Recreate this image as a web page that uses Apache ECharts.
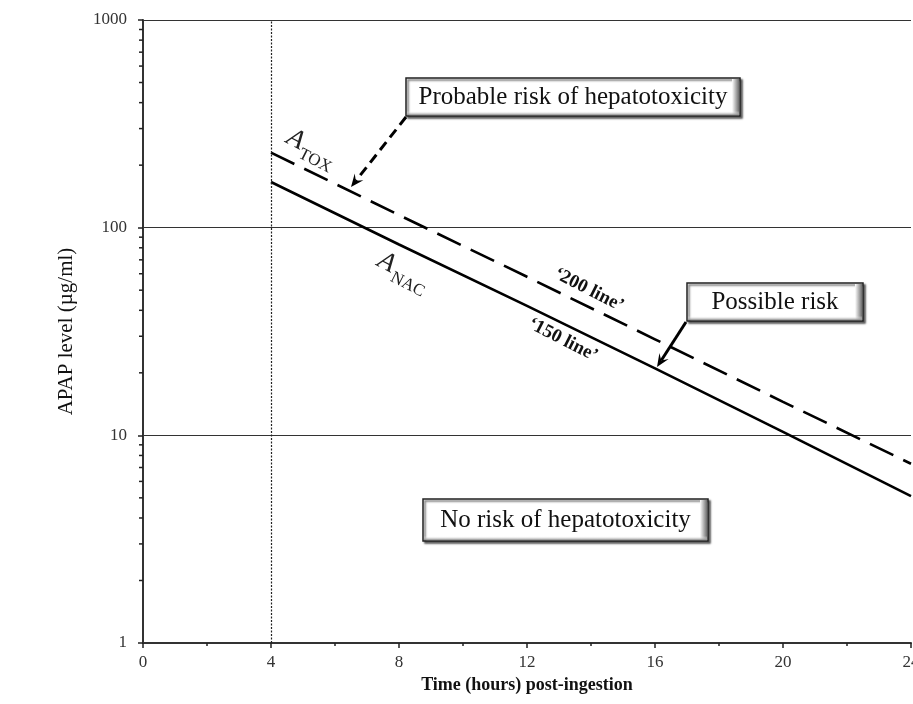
<!DOCTYPE html>
<html>
<head>
<meta charset="utf-8">
<script src="https://cdn.jsdelivr.net/npm/echarts@6/dist/echarts.min.js"></script>
<style>
html,body{margin:0;padding:0;background:#fff;}
#chart{width:913px;height:704px;}
</style>
</head>
<body>
<div id="chart"></div>
<script>
// ---- data ----
const hours = [4, 8, 12, 16, 20, 24];
const toxLine = [230, 115, 58, 29, 14.5, 7.3];     // A_TOX '200 line'
const nacLine = [166, 83, 42, 21, 10.4, 5.1];      // A_NAC '150 line'
const treatmentStart = 4;
const yMinorTicks = [2,3,4,5,6,7,8,9,20,30,40,50,60,70,80,90,200,300,400,500,600,700,800,900];
const xName = 'Time (hours) post-ingestion';
const yName = 'APAP level (\u00b5g/ml)';
const boxTexts = ['Probable risk of hepatotoxicity', 'Possible risk', 'No risk of hepatotoxicity'];

const SERIF = '"Liberation Serif", "Times New Roman", serif';
const chart = echarts.init(document.getElementById('chart'));

function arrow(x1, y1, x2, y2, dashed) {
  const ang = Math.atan2(y2 - y1, x2 - x1);
  const hl = 13, hw = 5.5;
  const bx = x2 - hl * Math.cos(ang), by = y2 - hl * Math.sin(ang);
  const px = -Math.sin(ang) * hw, py = Math.cos(ang) * hw;
  const mx = x2 - hl * 0.6 * Math.cos(ang), my = y2 - hl * 0.6 * Math.sin(ang);
  return {
    type: 'group', children: [
      { type: 'line', shape: { x1: x1, y1: y1, x2: mx, y2: my },
        style: { stroke: '#000', lineWidth: 3, lineDash: dashed ? [10, 6] : null } },
      { type: 'polygon', shape: { points: [[x2, y2], [bx + px, by + py], [mx, my], [bx - px, by - py]] },
        style: { fill: '#000' } }
    ]
  };
}
function box(x, y, w, h, text) {
  return {
    type: 'group', children: [
      { type: 'rect', shape: { x: x, y: y, width: w, height: h },
        style: { fill: '#fff', stroke: '#222', lineWidth: 1.5,
                 shadowBlur: 2, shadowOffsetX: 2, shadowOffsetY: 2, shadowColor: 'rgba(0,0,0,0.6)' } },
      { type: 'rect', shape: { x: x + w - 8, y: y + 1, width: 7, height: h - 2 },
        style: { fill: new echarts.graphic.LinearGradient(0, 0, 1, 0, [{offset:0,color:'rgba(255,255,255,1)'},{offset:1,color:'rgba(110,110,110,1)'}]) } },
      { type: 'rect', shape: { x: x + 1, y: y + h - 5, width: w - 2, height: 4 },
        style: { fill: new echarts.graphic.LinearGradient(0, 0, 0, 1, [{offset:0,color:'rgba(255,255,255,0)'},{offset:1,color:'rgba(140,140,140,1)'}]) } },
      { type: 'text', x: x + w / 2, y: y + h / 2,
        style: { text: text, font: '25px ' + SERIF, fill: '#111', align: 'center', verticalAlign: 'middle' } }
    ]
  };
}
function subLabel(x, y, rot, main, sub, subDx) {
  return {
    type: 'group', x: x, y: y, rotation: rot, children: [
      { type: 'text', x: 0, y: 0, style: { text: main, font: 'italic 27px ' + SERIF, fill: '#222', align: 'left', verticalAlign: 'bottom' } },
      { type: 'text', x: subDx, y: 5, style: { text: sub, font: '17px ' + SERIF, fill: '#222', align: 'left', verticalAlign: 'bottom' } }
    ]
  };
}
const rot = -27 * Math.PI / 180;

const option = {
  animation: false,
  grid: { left: 143, right: 2, top: 20, bottom: 61, outerBoundsMode: 'none', containLabel: false },
  xAxis: {
    type: 'value', min: 0, max: 24, interval: 4,
    name: xName, nameLocation: 'middle', nameGap: 33,
    nameTextStyle: { fontFamily: SERIF, fontWeight: 'bold', fontSize: 18, color: '#111' },
    axisLine: { lineStyle: { color: '#333', width: 2 } },
    axisTick: { show: true, length: 5, inside: false, lineStyle: { color: '#222', width: 1.5 } },
    minorTick: { show: true, splitNumber: 2, length: 3, lineStyle: { color: '#222', width: 1.5 } },
    axisLabel: { fontFamily: SERIF, fontSize: 17, color: '#333', margin: 11, showMaxLabel: true },
    splitLine: { show: false }
  },
  yAxis: {
    type: 'log', min: 1, max: 1000, logBase: 10,
    name: yName, nameLocation: 'middle', nameGap: 66, nameRotate: 90,
    nameTextStyle: { fontFamily: SERIF, fontSize: 21, color: '#111' },
    axisLine: { show: true, lineStyle: { color: '#333', width: 2 } },
    axisTick: { show: true, length: 5, lineStyle: { color: '#222', width: 1.5 } },
    axisLabel: { fontFamily: SERIF, fontSize: 17, color: '#333', margin: 16,
                 formatter: function (v) { return String(Math.round(v)); } },
    splitLine: { show: true, lineStyle: { color: '#333', width: 1 } }
  },
  series: [
    {
      type: 'line', name: 'A_TOX', symbol: 'none', silent: true,
      data: hours.map((h, i) => [h, toxLine[i]]),
      lineStyle: { color: '#000', width: 2.6, type: [26, 11], cap: 'butt' },
      markLine: {
        silent: true, symbol: 'none', label: { show: false },
        lineStyle: { color: '#222', width: 1.2, type: [2, 1.5] },
        data: [{ xAxis: treatmentStart }]
      }
    },
    {
      type: 'line', name: 'A_NAC', symbol: 'none', silent: true,
      data: hours.map((h, i) => [h, nacLine[i]]),
      lineStyle: { color: '#000', width: 2.6, type: 'solid' }
    },
    {
      type: 'custom', name: 'minorTicks', silent: true, clip: false,
      data: yMinorTicks.map(v => [0, v]),
      renderItem: function (params, api) {
        const p = api.coord([api.value(0), api.value(1)]);
        return { type: 'line', shape: { x1: p[0] - 4, y1: p[1], x2: p[0], y2: p[1] },
                 style: { stroke: '#222', lineWidth: 1.5 } };
      }
    }
  ],
  graphic: [
    box(406, 78, 334, 38, boxTexts[0]),
    box(687, 283, 176, 38, boxTexts[1]),
    box(423, 499, 285, 42, boxTexts[2]),
    arrow(406, 117, 351, 187, true),
    arrow(686, 322, 657, 367, false),
    subLabel(282, 148, rot, 'A', 'TOX', 18),
    subLabel(373, 271, rot, 'A', 'NAC', 19),
    { type: 'text', x: 589, y: 290, rotation: rot,
      style: { text: '\u2018200 line\u2019', font: 'bold 19px ' + SERIF, fill: '#111', align: 'center', verticalAlign: 'middle' } },
    { type: 'text', x: 563, y: 340, rotation: rot,
      style: { text: '\u2018150 line\u2019', font: 'bold 19px ' + SERIF, fill: '#111', align: 'center', verticalAlign: 'middle' } }
  ]
};
chart.setOption(option);
</script>
</body>
</html>
